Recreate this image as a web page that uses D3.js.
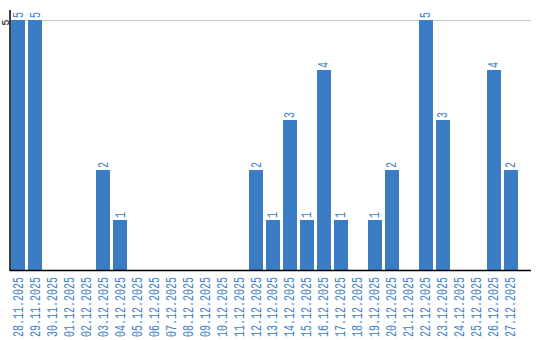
<!DOCTYPE html>
<html>
<head>
<meta charset="utf-8">
<script src="https://cdn.jsdelivr.net/npm/d3@7"></script>
<style>
  body { margin: 0; background: #fff; }
  svg { display: block; }
</style>
</head>
<body>
<div id="chart"></div>
<script>
const days = ["28.11.2025","29.11.2025","30.11.2025","01.12.2025","02.12.2025","03.12.2025","04.12.2025",
  "05.12.2025","06.12.2025","07.12.2025","08.12.2025","09.12.2025","10.12.2025","11.12.2025",
  "12.12.2025","13.12.2025","14.12.2025","15.12.2025","16.12.2025","17.12.2025","18.12.2025",
  "19.12.2025","20.12.2025","21.12.2025","22.12.2025","23.12.2025","24.12.2025","25.12.2025",
  "26.12.2025","27.12.2025"];
const counts = [5,5,0,0,0,2,1,0,0,0,0,0,0,0,2,1,3,1,4,1,0,1,2,0,5,3,0,0,4,2];
const yTicks = [5];

const width = 540, height = 340;
const mLeft = 10, mBottom = 270, mTop = 20, mRight = 531;
const blue = "#3b7dc4";
const font = "Liberation Mono, DejaVu Sans Mono, monospace";
const stretch = " scale(1,1.4)";

const svg = d3.select("#chart").append("svg")
  .attr("width", width)
  .attr("height", height);

const x = d3.scaleBand()
  .domain(days)
  .range([mLeft + 1, 518])
  .paddingInner(0.176)
  .paddingOuter(0)
  .align(0);

const y = d3.scaleLinear()
  .domain([0, 5])
  .range([mBottom, mTop]);

// grid line at max
svg.selectAll(".grid")
  .data(yTicks)
  .enter().append("line")
  .attr("x1", mLeft).attr("x2", mRight)
  .attr("y1", d => y(d) + 0.5).attr("y2", d => y(d) + 0.5)
  .attr("stroke", "#c8c8c8");

svg.selectAll(".bar")
  .data(days)
  .enter().append("rect")
  .attr("x", d => x(d))
  .attr("y", (d, i) => y(counts[i]))
  .attr("width", x.bandwidth())
  .attr("height", (d, i) => mBottom - y(counts[i]))
  .attr("fill", blue);

// value labels
svg.selectAll(".val")
  .data(days.filter((d, i) => counts[i] > 0))
  .enter().append("text")
  .attr("transform", d => {
    const v = counts[days.indexOf(d)];
    return "translate(" + (x(d) + x.bandwidth() / 2 + 4.5) + "," + (y(v) - 2) + ") rotate(-90)" + stretch;
  })
  .attr("font-family", font)
  .attr("font-size", 10)
  .attr("fill", blue)
  .text(d => counts[days.indexOf(d)]);

// axes lines
svg.append("line")
  .attr("x1", mLeft).attr("x2", mLeft)
  .attr("y1", 10).attr("y2", mBottom + 1)
  .attr("stroke", "#000").attr("stroke-width", 1.5);
svg.append("line")
  .attr("x1", mLeft).attr("x2", mRight)
  .attr("y1", mBottom + 0.5).attr("y2", mBottom + 0.5)
  .attr("stroke", "#000").attr("stroke-width", 1.5);

// y tick labels
svg.selectAll(".ytick")
  .data(yTicks)
  .enter().append("text")
  .attr("transform", d => "translate(8.5," + (y(d) + 2.5) + ") rotate(-90) scale(1,1.05)")
  .attr("text-anchor", "middle")
  .attr("font-family", font)
  .attr("font-size", 10)
  .attr("fill", "#000")
  .text(d => d);

// x labels
svg.selectAll(".xlab")
  .data(days)
  .enter().append("text")
  .attr("transform", d => "translate(" + (x(d) + x.bandwidth() / 2 + 4.5) + "," + (mBottom + 7) + ") rotate(-90)" + stretch)
  .attr("text-anchor", "end")
  .attr("font-family", font)
  .attr("font-size", 10)
  .attr("fill", blue)
  .text(d => d);
</script>
</body>
</html>
